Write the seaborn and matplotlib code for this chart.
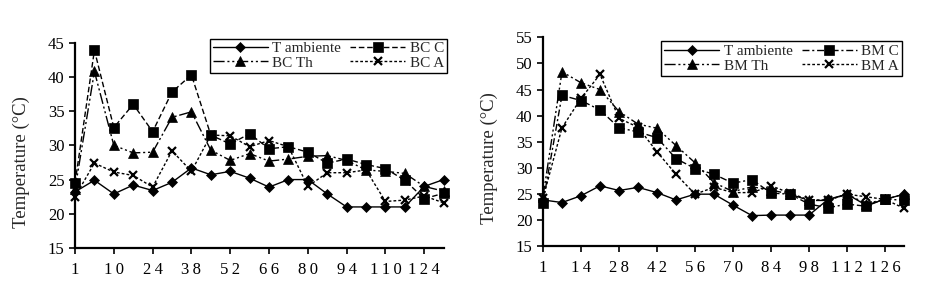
import numpy as np
import pandas as pd
import matplotlib
matplotlib.use("Agg")
import matplotlib.pyplot as plt
import seaborn as sns

# left panel (BC), 20 sampling points, label shown on every 2nd one
bc_labels = ["1", "10", "24", "38", "52", "66", "80", "94", "110", "124"]
t_amb_bc = [23.2, 24.9, 22.9, 24.2, 23.4, 24.6, 26.7, 25.7, 26.2, 25.2,
            23.9, 25.0, 25.0, 22.9, 21.0, 21.0, 21.0, 21.0, 24.0, 25.0]
bc_c = [24.5, 43.9, 32.6, 36.0, 32.0, 37.8, 40.3, 31.5, 30.2, 31.7,
        29.5, 29.8, 29.0, 27.4, 28.0, 27.2, 26.6, 24.9, 22.2, 23.0]
bc_th = [23.6, 40.8, 30.0, 28.9, 29.0, 34.1, 34.9, 29.3, 27.8, 28.8,
         27.7, 28.0, 28.4, 28.5, 27.8, 26.4, 26.2, 25.9, 24.0, 23.3]
bc_a = [22.5, 27.4, 26.1, 25.6, 23.9, 29.2, 26.2, 31.5, 31.4, 29.8,
        30.7, 29.8, 24.0, 26.0, 26.0, 26.4, 21.8, 22.0, 22.6, 21.6]

# right panel (BM)
bm_labels = ["1", "14", "28", "42", "56", "70", "84", "98", "112", "126"]
t_amb_bm = [23.9, 23.4, 24.7, 26.6, 25.7, 26.3, 25.3, 23.9, 25.0, 25.0,
            22.9, 20.9, 21.0, 21.0, 21.0, 24.0, 25.0, 22.9, 24.0, 25.0]
bm_c = [23.4, 43.9, 42.9, 41.1, 37.7, 36.9, 35.8, 31.8, 29.9, 28.8,
        27.1, 27.8, 25.2, 25.0, 23.1, 22.4, 23.1, 22.7, 24.1, 23.8]
bm_th = [24.5, 48.4, 46.3, 45.0, 40.8, 38.4, 37.6, 34.3, 31.0, 27.2,
         25.5, 26.4, 25.8, 25.0, 23.8, 23.8, 25.0, 23.2, 24.0, 25.0]
bm_a = [24.2, 37.7, 43.3, 47.9, 39.5, 37.8, 33.1, 28.8, 25.0, 26.3,
        25.3, 25.3, 26.6, 25.2, 23.9, 23.9, 25.0, 24.5, 24.0, 22.3]

sns.set_style("ticks")
plt.rcParams["font.family"] = ["Liberation Serif", "DejaVu Serif"]

fig = plt.figure(figsize=(9.32, 2.91), dpi=100)
ax1 = fig.add_axes([0.0805, 0.1478, 0.3955, 0.7054])
ax2 = fig.add_axes([0.5826, 0.153, 0.3874, 0.719])

def spaced(s):
    # Excel-style wide digit spacing
    return "\u2009".join(s)

def draw(ax, series, labels, ylim, ylab_pos):
    x = np.arange(len(series[0][1]))
    for name, vals, mk, ls, ms in series:
        df = pd.DataFrame({"x": x, "y": vals})
        sns.lineplot(data=df, x="x", y="y", ax=ax, color="black", marker=mk,
                     linestyle=ls, linewidth=1.0, markersize=ms,
                     markeredgecolor="black", markeredgewidth=1.6 if mk == "x" else 0.5,
                     label=name, clip_on=False)
    ax.set_xlim(0, len(x) - 1)
    ax.set_ylim(*ylim)
    ax.set_yticks(np.arange(ylim[0], ylim[1] + 1, 5))
    ax.set_xticks(x[::2])
    ax.set_xticklabels([spaced(s) for s in labels])
    ax.set_xlabel("")
    ax.set_ylabel("Temperature (°C)", fontsize=13.5)
    ax.yaxis.set_label_coords(*ylab_pos)
    for s in ["top", "right"]:
        ax.spines[s].set_visible(False)
    for s in ["left", "bottom"]:
        ax.spines[s].set_linewidth(1.6)
        ax.spines[s].set_color("black")
    ax.tick_params(axis="both", labelsize=12, width=1.2, length=4, colors="black")
    ax.tick_params(axis="x", pad=6)

draw(ax1, [("T ambiente", t_amb_bc, "D", "-", 5),
           ("BC C", bc_c, "s", (0, (4, 2)), 6.5),
           ("BC Th", bc_th, "^", (0, (8, 2, 1.5, 2, 1.5, 2)), 6.5),
           ("BC A", bc_a, "x", (0, (2, 1.5)), 6)],
     bc_labels, (15, 45), (-0.123, 0.42))
draw(ax2, [("T ambiente", t_amb_bm, "D", "-", 5),
           ("BM C", bm_c, "s", (0, (5, 2, 1.5, 2)), 6.5),
           ("BM Th", bm_th, "^", (0, (8, 2, 1.5, 2, 1.5, 2)), 6.5),
           ("BM A", bm_a, "x", (0, (2, 1.5)), 6)],
     bm_labels, (15, 55), (-0.124, 0.423))

for ax, anchor in [(ax1, (1.01, 1.02)), (ax2, (0.995, 0.98))]:
    h, l = ax.get_legend_handles_labels()
    # row-wise order: first row T ambiente / C, second row Th / A
    order = [0, 2, 1, 3]
    leg = ax.legend([h[i] for i in order], [l[i] for i in order], ncol=2,
                    loc="upper right", bbox_to_anchor=anchor,
                    fontsize=11, frameon=True, fancybox=False, framealpha=1,
                    edgecolor="black", handlelength=3.6, handletextpad=0.3,
                    columnspacing=0.6, borderpad=0.2, labelspacing=0.05,
                    borderaxespad=0)
    leg.get_frame().set_linewidth(1.0)

fig.savefig("out.png", dpi=100)
